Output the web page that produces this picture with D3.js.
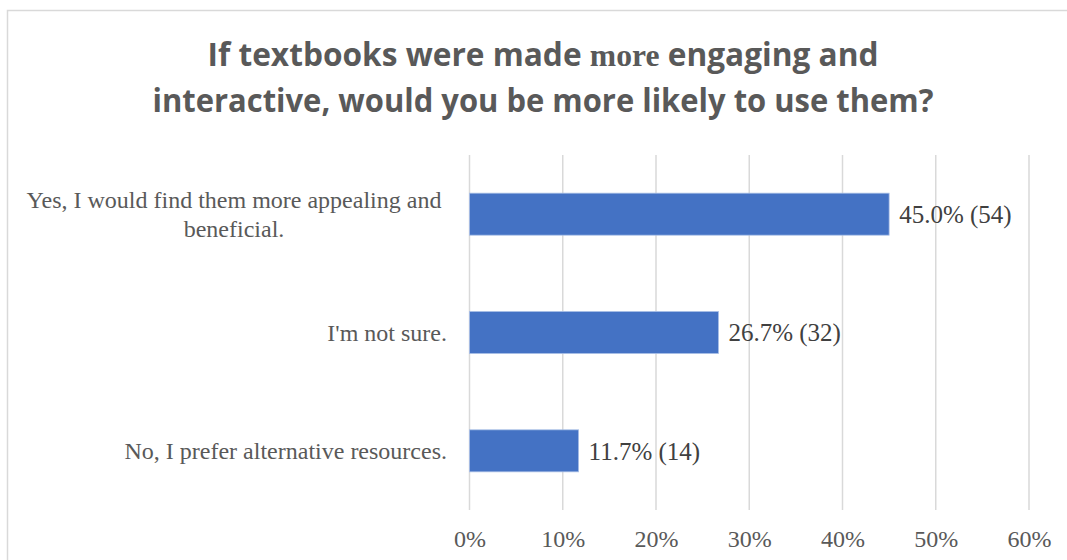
<!DOCTYPE html>
<html>
<head>
<meta charset="utf-8">
<script src="https://cdn.jsdelivr.net/npm/d3@7"></script>
<style>
    html, body { margin: 0; padding: 0; background: #fff; }
    svg { display: block; }
</style>
</head>
<body>
<svg id="chart"></svg>
<script>
// Chart data
const categories = [
    ['Yes, I would find them more appealing and', 'beneficial.'],
    ["I'm not sure."],
    ['No, I prefer alternative resources.']
];
const percents = [45.0, 26.7, 11.7];
const counts = [54, 32, 14];
const tickValues = [0, 10, 20, 30, 40, 50, 60];

const width = 1067;
const height = 560;

const svg = d3.select('#chart')
    .attr('width', width)
    .attr('height', height);

// Outer chart border (cropped at right / bottom)
svg.append('rect')
    .attr('x', 7.5)
    .attr('y', 10.5)
    .attr('width', width + 20)
    .attr('height', height + 20)
    .attr('fill', '#fff')
    .attr('stroke', '#d9d9d9')
    .attr('stroke-width', 1.5);

// Title
const title = svg.append('g')
    .attr('font-family', '"Open Sans", sans-serif')
    .attr('font-weight', 700)
    .attr('font-size', '32px')
    .attr('fill', '#595959')
    .attr('text-anchor', 'middle');

const t1 = title.append('text')
    .attr('x', 543)
    .attr('y', 66)
    .attr('textLength', 671)
    .attr('lengthAdjust', 'spacingAndGlyphs');
t1.append('tspan').text('If textbooks were made ');
t1.append('tspan').attr('font-family', '"Liberation Serif", serif').text('more');
t1.append('tspan').text(' engaging and');

title.append('text')
    .attr('x', 543)
    .attr('y', 112)
    .attr('textLength', 781)
    .attr('lengthAdjust', 'spacingAndGlyphs')
    .text('interactive, would you be more likely to use them?');

// Scales
const x = d3.scaleLinear()
    .domain([0, 60])
    .range([469.5, 1029]);

const y = d3.scaleBand()
    .domain(d3.range(categories.length))
    .range([155, 510])
    .paddingInner(0.645)
    .paddingOuter(0.3225);

// Gridlines
svg.append('g')
    .selectAll('line')
    .data(tickValues)
    .join('line')
    .attr('x1', d => x(d))
    .attr('x2', d => x(d))
    .attr('y1', 155)
    .attr('y2', 510)
    .attr('stroke', '#d9d9d9')
    .attr('stroke-width', 1.5);

// Bottom axis labels
const xAxis = svg.append('g')
    .attr('transform', 'translate(0,510)')
    .call(d3.axisBottom(x)
        .tickValues(tickValues)
        .tickFormat(d => d + '%')
        .tickSize(0)
        .tickPadding(20));
xAxis.select('.domain').remove();
xAxis.selectAll('text')
    .attr('font-family', '"Liberation Serif", serif')
    .attr('font-size', '24px')
    .attr('fill', '#595959');

// Bars
svg.append('g')
    .selectAll('rect')
    .data(percents)
    .join('rect')
    .attr('x', x(0))
    .attr('y', (d, i) => y(i))
    .attr('width', d => x(d) - x(0))
    .attr('height', y.bandwidth())
    .attr('fill', '#4472c4')
    .attr('stroke', '#a9bfe6')
    .attr('stroke-width', 0.8);

// Data labels
svg.append('g')
    .selectAll('text')
    .data(percents)
    .join('text')
    .attr('x', d => x(d) + 10)
    .attr('y', (d, i) => y(i) + y.bandwidth() / 2)
    .attr('dy', '0.35em')
    .attr('font-family', '"Liberation Serif", serif')
    .attr('font-size', '25px')
    .attr('fill', '#404040')
    .text((d, i) => `${d.toFixed(1)}% (${counts[i]})`);

// Category labels: single lines right-aligned, wrapped ones centred in a label box
const catGroup = svg.append('g')
    .attr('font-family', '"Liberation Serif", serif')
    .attr('font-size', '24px')
    .attr('fill', '#595959');

const labelRight = 447;
const labelBox = 426;
const lineHeight = 29;

categories.forEach((lines, i) => {
    const cy = y(i) + y.bandwidth() / 2;
    const top = cy - (lines.length - 1) * lineHeight / 2;
    const multi = lines.length > 1;
    const text = catGroup.append('text')
        .attr('text-anchor', multi ? 'middle' : 'end');
    lines.forEach((line, j) => {
        text.append('tspan')
            .attr('x', multi ? labelRight - labelBox / 2 : labelRight)
            .attr('y', top + j * lineHeight)
            .attr('dy', '0.35em')
            .text(line);
    });
});
</script>
</body>
</html>
